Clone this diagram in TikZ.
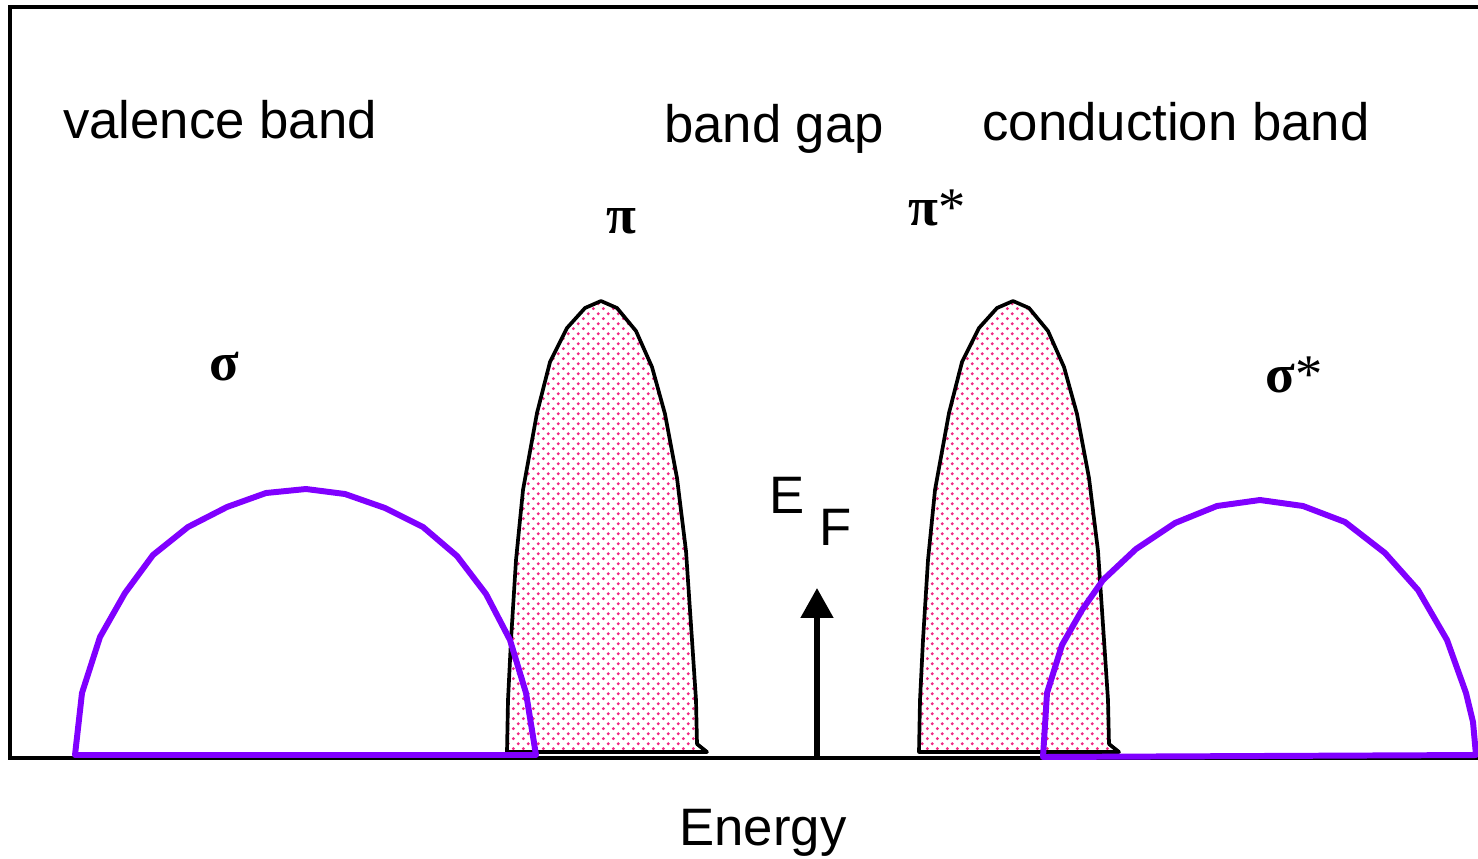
\documentclass[tikz,border=0pt]{standalone}
\usepackage{fontspec}
\setmainfont{Liberation Sans}
\newfontfamily\greekfont{Liberation Serif}
\usetikzlibrary{patterns,arrows.meta}
\definecolor{bandpurple}{RGB}{128,0,255}
\definecolor{dotpink}{RGB}{240,40,130}
\pgfdeclarepatternformonly{band dots}{\pgfpointorigin}{\pgfqpoint{5.6pt}{5.6pt}}{\pgfqpoint{5.6pt}{5.6pt}}{%
  \pgfpathcircle{\pgfqpoint{1.4pt}{1.4pt}}{.95pt}
  \pgfpathcircle{\pgfqpoint{4.2pt}{4.2pt}}{.95pt}
  \pgfusepath{fill}}

\begin{document}
\begin{tikzpicture}[
x=0.02cm, y=-0.02cm,
every node/.style={inner sep=0, anchor=base, font=\fontsize{30}{36}\selectfont},
greek/.style={font=\fontsize{31}{36}\greekfont},
axisframe/.style={line width=2.2pt},
sigmaband/.style={draw=bandpurple, line width=3.4pt, line join=round},
piband/.style={draw=black, line width=2.1pt, line join=round, pattern=band dots, pattern color=dotpink}
]
\useasboundingbox (0,0) rectangle (1478,859);
% Frame and energy axis
\draw[axisframe] (1478,7) -- (10,7) -- (10,758) -- (1478,758);

% pi and pi* bands
\foreach \s in {0,412}{
    \draw[piband, shift={(\s,0)}] (507,752) -- (508,700) -- (511,640) -- (516,560) -- (523,490)
        -- (537,413) -- (550,362) -- (567,328) -- (585,308) -- (601,301) -- (617,308)
        -- (636,331) -- (652,367) -- (665,414) -- (677,478) -- (686,551) -- (692,640)
        -- (696,700) -- (697,744) -- (707,752) -- cycle;
}

% sigma and sigma* bands
\draw[sigmaband] (75,755) -- (82,693) -- (100,637) -- (125,593) -- (153,555) -- (188,527)
    -- (227,507) -- (266,493) -- (306,489) -- (345,494) -- (385,508) -- (423,527)
    -- (457,556) -- (486,594) -- (510,640) -- (526,693) -- (536,755) -- cycle;
\draw[sigmaband] (1043,757) -- (1047,693) -- (1062,645) -- (1082,610) -- (1103,580)
    -- (1136,549) -- (1175,523) -- (1217,506) -- (1260,500) -- (1303,506) -- (1345,522)
    -- (1385,553) -- (1418,590) -- (1447,640) -- (1466,693) -- (1473,722) -- (1476,755) -- cycle;

% Fermi level
\coordinate (efbase) at (817,758);
\coordinate (eftip) at (817,588);
\draw[line width=3.2pt, -{Triangle[length=17pt, width=18pt]}] (efbase) -- (eftip);

% Labels
\node (valence) at (220,138) {valence band};
\node (gap) at (774,142) {band gap};
\node (conduction) at (1176,140) {conduction band};
\node[greek] (pi) at (621,233) {\bfseries π};
\node[greek] (pistar) at (937,225) {{\bfseries π}*};
\node[greek] (sigma) at (224,380) {\bfseries σ};
\node[greek] (sigmastar) at (1294,392) {{\bfseries σ}*};
\node (e) at (787,513) {E};
\node (f) at (836,545) {F};
\node (energy) at (763,845) {Energy};
\end{tikzpicture}
\end{document}
